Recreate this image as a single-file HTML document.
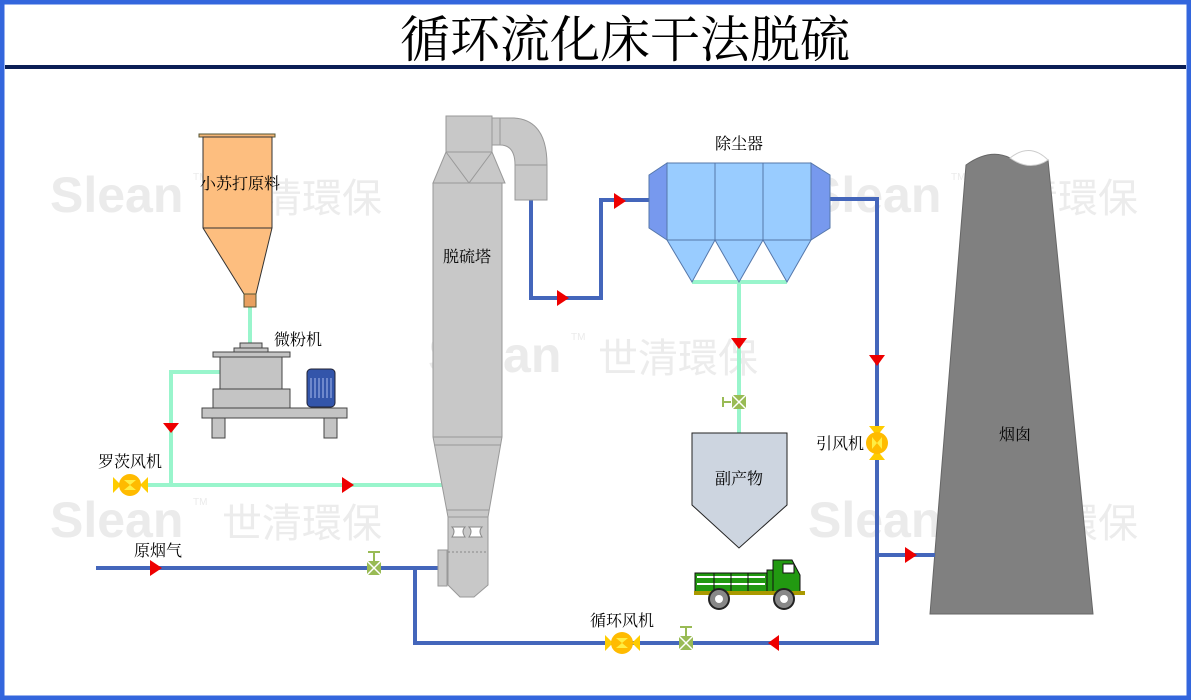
<!DOCTYPE html>
<html><head><meta charset="utf-8"><style>
html,body{margin:0;padding:0;background:#fff}
svg{display:block}
.s{font-family:"Liberation Serif","Noto Serif CJK SC","Noto Sans CJK SC",serif}
</style></head><body>
<svg width="1191" height="700" viewBox="0 0 1191 700" xmlns="http://www.w3.org/2000/svg">
<rect x="0" y="0" width="1191" height="700" fill="#fff"/>
<rect x="2" y="2" width="1187" height="696" fill="none" stroke="#3366dd" stroke-width="5"/>
<text class="s" x="625" y="57" font-size="50" text-anchor="middle" fill="#000">循环流化床干法脱硫</text>
<rect x="5" y="65" width="1181" height="4" fill="#0a1e55"/>

<!-- watermarks -->
<g fill="#ebebeb" style="font-family:'Liberation Sans',sans-serif;font-weight:bold;font-size:50px">
<text x="50" y="212">Slean</text><text x="50" y="537">Slean</text>
<text x="428" y="372">Slean</text><text x="808" y="212">Slean</text><text x="808" y="537">Slean</text>
</g>
<g fill="#ebebeb" style="font-family:'Liberation Sans',sans-serif;font-size:10px">
<text x="193" y="180">TM</text><text x="193" y="505">TM</text><text x="571" y="340">TM</text><text x="951" y="180">TM</text><text x="951" y="505">TM</text>
</g>
<g fill="#ececec" style="font-family:'Noto Sans CJK SC',sans-serif;font-size:40px">
<text x="222" y="212">世清環保</text><text x="222" y="537">世清環保</text>
<text x="598" y="372">世清環保</text><text x="978" y="212">世清環保</text><text x="978" y="537">世清環保</text>
</g>

<g class="s">
<!-- chimney -->
<path d="M930,614 L966,165 Q990,148 1010,158 Q1030,172 1048,160 L1093,614 Z" fill="#808080" stroke="#666"/>
<path d="M1010,158 Q1030,142 1048,160 Q1030,172 1010,158Z" fill="#fff" stroke="#ccc"/>
<text x="1015" y="440" font-size="16" text-anchor="middle">烟囱</text>

<!-- green pipes -->
<g stroke="#99f5cc" stroke-width="4" fill="none">
<path d="M250,307 V345"/>
<path d="M222,372 H171 V485 H445"/>
<path d="M148,485 H171"/>
<path d="M692,282 H787 M739,282 V433"/>
</g>

<!-- blue pipes -->
<g stroke="#4466bb" stroke-width="4" fill="none">
<path d="M96,568 H438"/>
<path d="M415,568 V643 H877 V199 H830"/>
<path d="M877,555 H935"/>
<path d="M531,198 V298 H601 V200 H650"/>
</g>

<!-- arrows -->
<g fill="#ee0000">
<path d="M163,423 L179,423 L171,433Z"/>
<path d="M342,477 L354,485 L342,493Z"/>
<path d="M150,560 L162,568 L150,576Z"/>
<path d="M557,290 L569,298 L557,306Z"/>
<path d="M614,193 L626,201 L614,209Z"/>
<path d="M731,338 L747,338 L739,349Z"/>
<path d="M869,355 L885,355 L877,366Z"/>
<path d="M905,547 L917,555 L905,563Z"/>
<path d="M779,635 L779,651 L768,643Z"/>
</g>

<!-- hopper -->
<rect x="199" y="134" width="76" height="3" fill="#f5b575" stroke="#553" stroke-width="1"/>
<path d="M203,137 H272 V228 L256,294 H244 L203,228 Z" fill="#fdbe7f" stroke="#333"/>
<line x1="203" y1="228" x2="272" y2="228" stroke="#333"/>
<rect x="244" y="294" width="12" height="13" fill="#e8a060" stroke="#553"/>
<text x="240" y="189" font-size="16" text-anchor="middle">小苏打原料</text>

<!-- mill -->
<g fill="#c4c4c4" stroke="#444">
<rect x="240" y="343" width="22" height="5"/>
<rect x="234" y="348" width="34" height="4"/>
<rect x="213" y="352" width="77" height="5"/>
<rect x="220" y="357" width="62" height="32"/>
<rect x="213" y="389" width="77" height="19"/>
<rect x="202" y="408" width="145" height="10"/>
<rect x="212" y="418" width="13" height="20"/>
<rect x="324" y="418" width="13" height="20"/>
</g>
<rect x="307" y="369" width="28" height="38" rx="4" fill="#3355aa" stroke="#223"/>
<g stroke="#aabbee" stroke-width="1"><path d="M311,378 V398 M315,378 V398 M319,378 V398 M323,378 V398 M327,378 V398 M331,378 V398"/></g>
<text x="298" y="345" font-size="16" text-anchor="middle">微粉机</text>

<!-- roots fan -->
<path d="M113,477 L121,485 L113,493 Z M148,477 L140,485 L148,493Z" fill="#ffcc00"/>
<circle cx="130" cy="485" r="11" fill="#ffbb00"/>
<path d="M124,480 H136 L130,485Z M124,490 H136 L130,485Z" fill="#ffee44"/>
<text x="130" y="467" font-size="16" text-anchor="middle">罗茨风机</text>
<text x="158" y="556" font-size="16" text-anchor="middle">原烟气</text>

<!-- valve raw gas -->
<rect x="367" y="561" width="14" height="14" fill="#99bb55"/>
<path d="M367,561 L381,575 M381,561 L367,575" stroke="#fff" stroke-width="1.5"/>
<path d="M374,561 V552 M368,552 H380" stroke="#99bb55" stroke-width="2"/>

<!-- tower -->
<g fill="#c8c8c8" stroke="#999">
<rect x="446" y="116" width="46" height="36"/>
<path d="M446,152 H492 L505,183 H433 Z"/>
<path d="M446,152 L469,183 L492,152" fill="none"/>
<path d="M433,183 H502 V437 L488,517 V585 L474,597 H460 L448,585 V517 L433,437 Z"/>
<path d="M433,437 H502 M434,445 H501 M447,510 H489 M448,517 H488" fill="none"/>
<rect x="438" y="550" width="9" height="36"/>
<path d="M492,118 H500 V145 H492 Z"/>
<path d="M500,118 H514 Q547,120 547,165 V200 H515 V165 Q515,145 500,145 Z"/>
<path d="M515,165 H547" fill="none"/>
</g>
<path d="M452,527 Q456,531 452,537 H465 Q461,531 465,527 Z M469,527 Q473,531 469,537 H482 Q478,531 482,527 Z" fill="#fff" stroke="#888"/>
<path d="M448,552 H488" stroke="#888" stroke-dasharray="2,2"/>
<text x="467" y="262" font-size="16" text-anchor="middle">脱硫塔</text>

<!-- dust collector -->
<g stroke="#5577aa" stroke-width="1">
<path d="M649,175 L667,163 V240 L649,228 Z" fill="#7799ee"/>
<path d="M811,163 L830,175 V228 L811,240 Z" fill="#7799ee"/>
<rect x="667" y="163" width="48" height="77" fill="#99ccff"/>
<rect x="715" y="163" width="48" height="77" fill="#99ccff"/>
<rect x="763" y="163" width="48" height="77" fill="#99ccff"/>
<path d="M667,240 H811 L787,282 L763,240 L739,282 L715,240 L692,282 Z" fill="#99ccff"/>
</g>
<text x="739" y="149" font-size="16" text-anchor="middle">除尘器</text>

<!-- valve below collector -->
<rect x="732" y="395" width="14" height="14" fill="#99bb55"/>
<path d="M732,395 L746,409 M746,395 L732,409" stroke="#fff" stroke-width="1.5"/>
<path d="M723,397 V407 M723,402 H731" stroke="#99bb55" stroke-width="2"/>

<!-- tank -->
<path d="M692,433 H787 V505 L739,548 L692,505 Z" fill="#cdd5e0" stroke="#222"/>
<text x="739" y="484" font-size="16" text-anchor="middle">副产物</text>

<!-- truck -->
<rect x="695" y="573" width="72" height="19" fill="#229911" stroke="#111"/>
<path d="M697,577 H765 M697,584 H765" stroke="#fff" stroke-width="2"/>
<path d="M714,573 V592 M731,573 V592 M748,573 V592" stroke="#111"/>
<rect x="767" y="570" width="6" height="22" fill="#229911" stroke="#111"/>
<path d="M773,592 V560 H792 L800,575 V592 Z" fill="#229911" stroke="#111"/>
<rect x="783" y="564" width="11" height="9" fill="#fff" stroke="#111"/>
<rect x="694" y="591" width="111" height="4" fill="#aa9900"/>
<circle cx="719" cy="599" r="10" fill="#888" stroke="#222" stroke-width="2"/><circle cx="719" cy="599" r="4" fill="#fff"/>
<circle cx="784" cy="599" r="10" fill="#888" stroke="#222" stroke-width="2"/><circle cx="784" cy="599" r="4" fill="#fff"/>

<!-- induced fan -->
<path d="M869,426 L877,436 L885,426Z M869,460 L877,450 L885,460Z" fill="#ffcc00"/>
<circle cx="877" cy="443" r="11" fill="#ffbb00"/>
<path d="M872,437 V449 L877,443Z M882,437 V449 L877,443Z" fill="#ffee44"/>
<text x="840" y="449" font-size="16" text-anchor="middle">引风机</text>

<!-- circulation fan -->
<path d="M605,635 L613,643 L605,651 Z M640,635 L632,643 L640,651Z" fill="#ffcc00"/>
<circle cx="622" cy="643" r="11" fill="#ffbb00"/>
<path d="M616,638 H628 L622,643Z M616,648 H628 L622,643Z" fill="#ffee44"/>
<text x="622" y="626" font-size="16" text-anchor="middle">循环风机</text>
<rect x="679" y="636" width="14" height="14" fill="#99bb55"/>
<path d="M679,636 L693,650 M693,636 L679,650" stroke="#fff" stroke-width="1.5"/>
<path d="M686,636 V627 M680,627 H692" stroke="#99bb55" stroke-width="2"/>
</g>
</svg>
</body></html>
